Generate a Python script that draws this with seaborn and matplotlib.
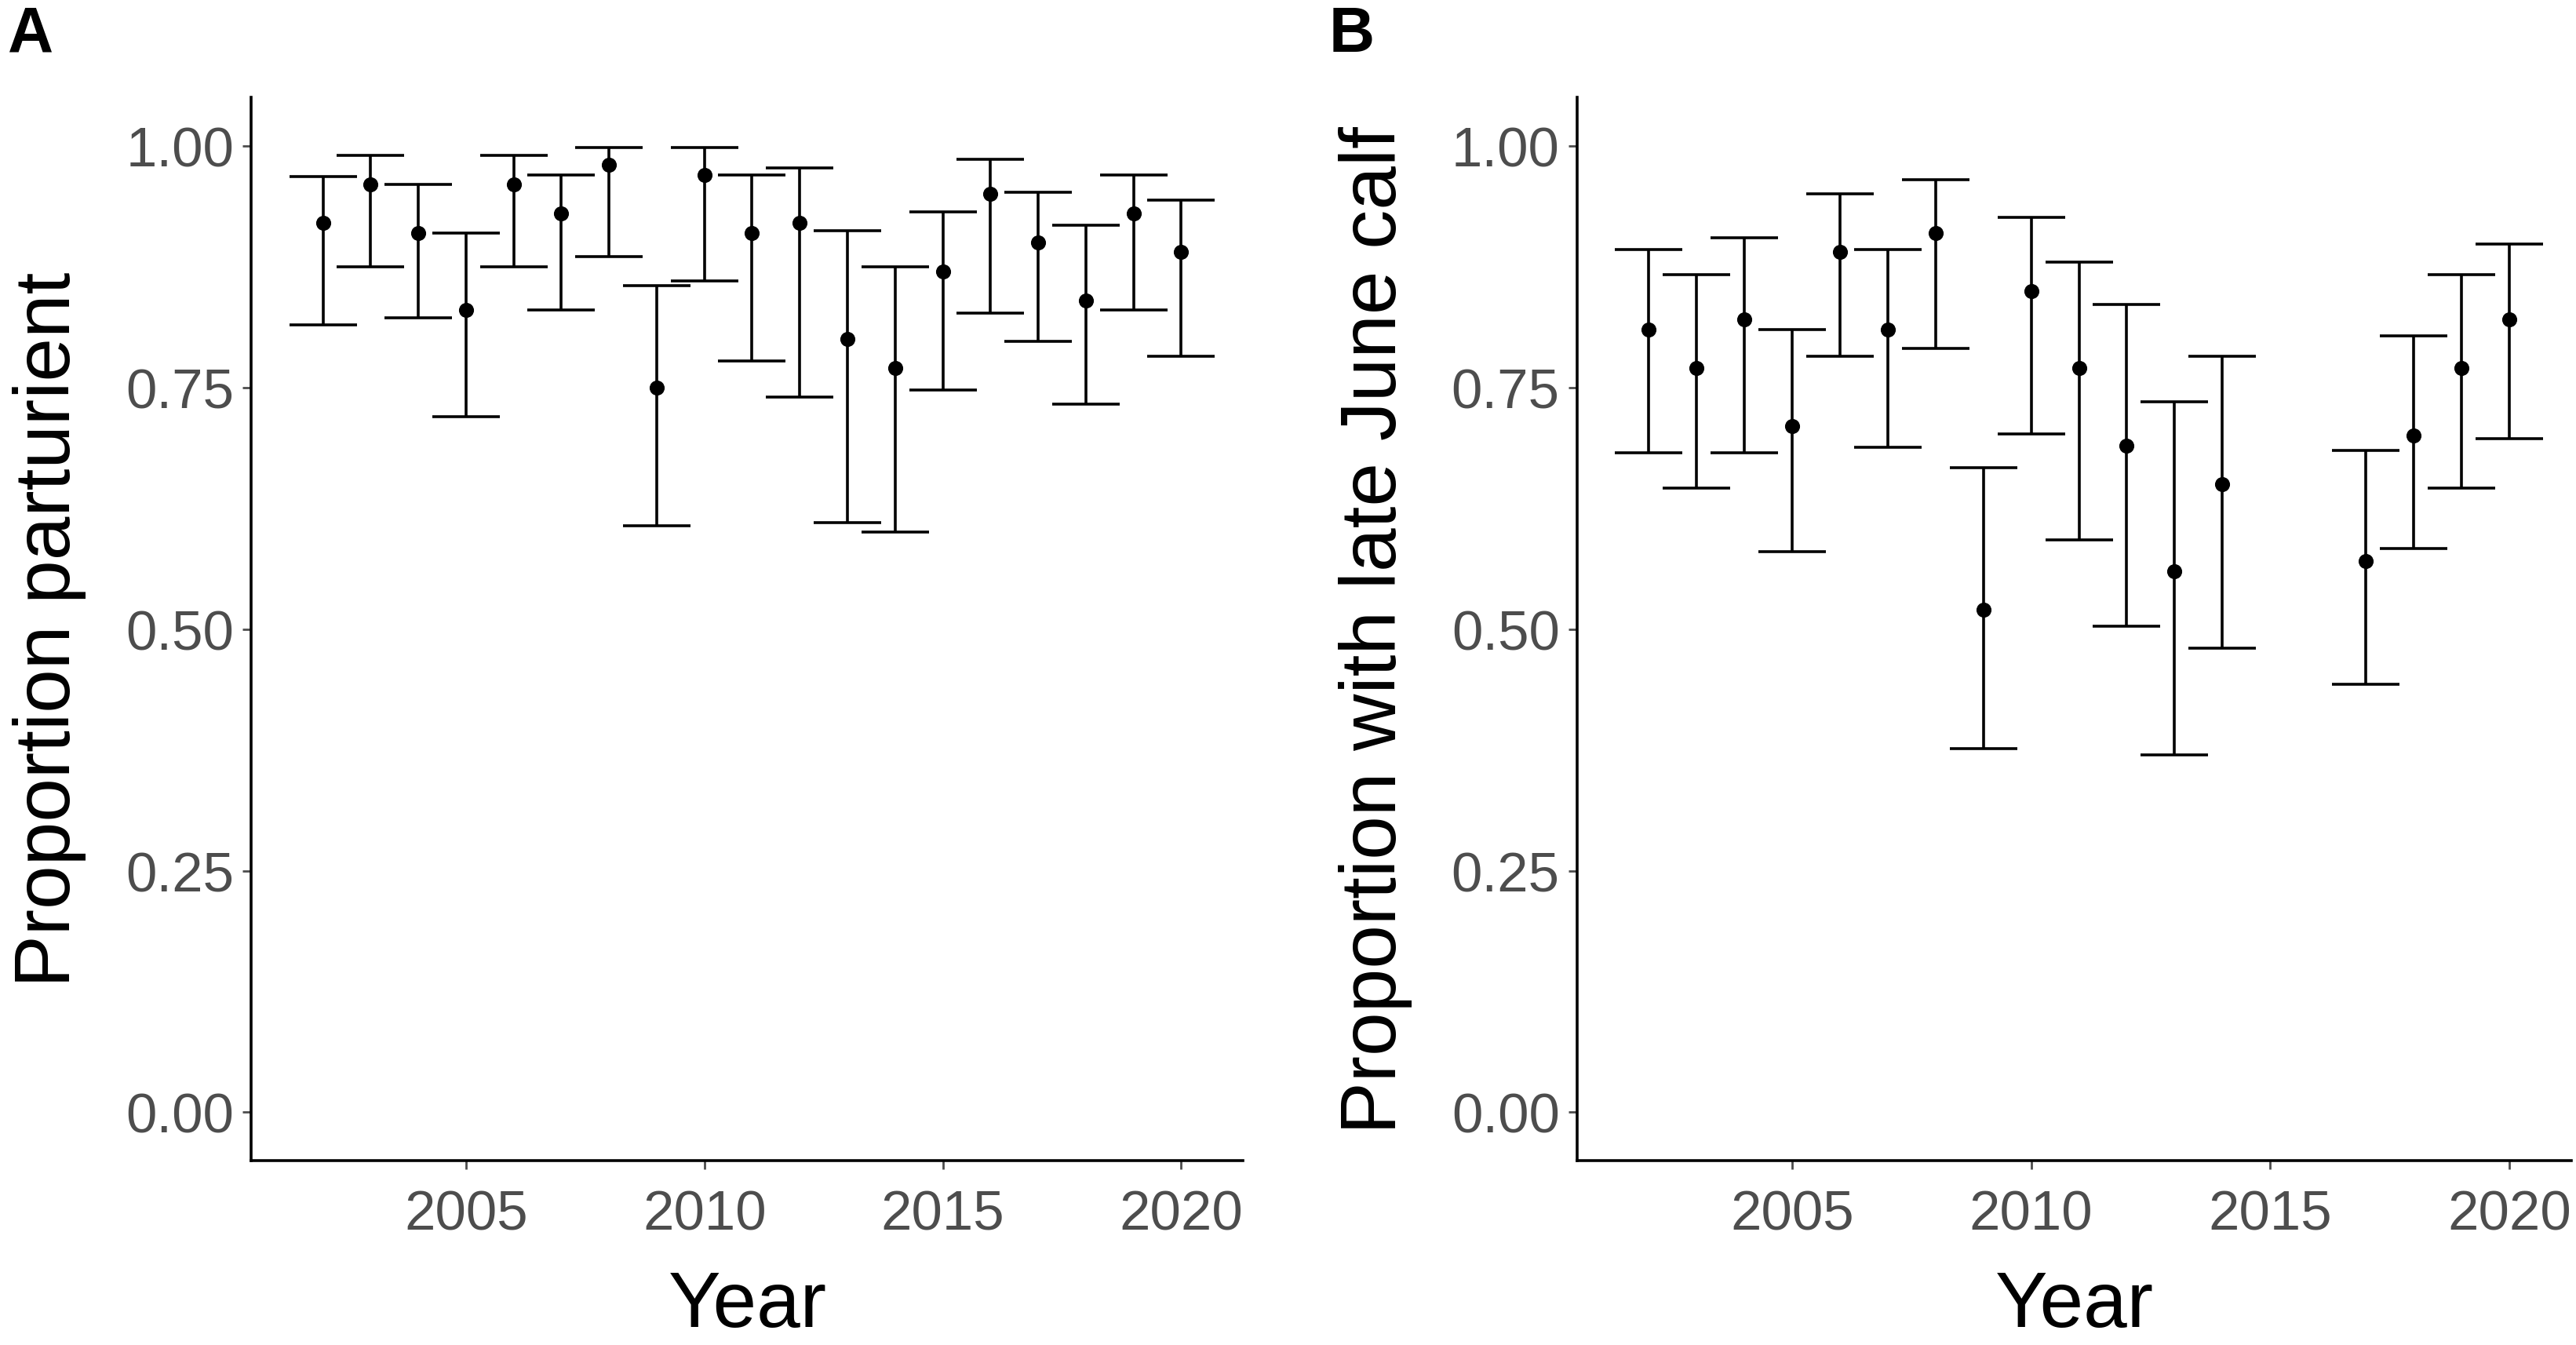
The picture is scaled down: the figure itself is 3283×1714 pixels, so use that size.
import numpy as np
import pandas as pd
import matplotlib
matplotlib.use("Agg")
import matplotlib.pyplot as plt
import seaborn as sns

# Panel A: proportion parturient
years_a = [2002, 2003, 2004, 2005, 2006, 2007, 2008, 2009, 2010, 2011,
           2012, 2013, 2014, 2015, 2016, 2017, 2018, 2019, 2020]
est_a = [0.92, 0.96, 0.91, 0.83, 0.96, 0.93, 0.98, 0.75, 0.97, 0.91,
         0.92, 0.80, 0.77, 0.87, 0.95, 0.90, 0.84, 0.93, 0.89]
low_a = [0.815, 0.875, 0.822, 0.72, 0.875, 0.83, 0.885, 0.607, 0.86, 0.777,
         0.74, 0.61, 0.60, 0.747, 0.827, 0.798, 0.733, 0.83, 0.782]
high_a = [0.968, 0.99, 0.96, 0.91, 0.99, 0.97, 0.998, 0.855, 0.998, 0.97,
          0.977, 0.912, 0.875, 0.932, 0.986, 0.952, 0.918, 0.97, 0.944]

# Panel B: proportion with late June calf
years_b = [2002, 2003, 2004, 2005, 2006, 2007, 2008, 2009, 2010, 2011,
           2012, 2013, 2014, 2017, 2018, 2019, 2020]
est_b = [0.81, 0.77, 0.82, 0.71, 0.89, 0.81, 0.91, 0.52, 0.85, 0.77,
         0.69, 0.56, 0.65, 0.57, 0.70, 0.77, 0.82]
low_b = [0.682, 0.646, 0.682, 0.58, 0.782, 0.688, 0.79, 0.376, 0.702, 0.592,
         0.503, 0.37, 0.48, 0.443, 0.583, 0.646, 0.697]
high_b = [0.893, 0.867, 0.905, 0.81, 0.95, 0.893, 0.965, 0.667, 0.926, 0.88,
          0.836, 0.735, 0.782, 0.685, 0.803, 0.867, 0.898]

x_ticks = [2005, 2010, 2015, 2020]
y_ticks = [0.00, 0.25, 0.50, 0.75, 1.00]

sns.set_theme(style="ticks")
plt.rcParams['font.family'] = ['Liberation Sans', 'DejaVu Sans']

fig = plt.figure(figsize=(32.83, 17.15), dpi=100)
ax_a = fig.add_axes([0.0976, 0.137, 0.385, 0.79])
ax_b = fig.add_axes([0.6122, 0.137, 0.386, 0.79])


def draw_panel(ax, years, est, low, high, ylabel):
    df = pd.DataFrame({"Year": years, "est": est, "low": low, "high": high})
    yerr = np.vstack([df["est"] - df["low"], df["high"] - df["est"]])
    ax.errorbar(df["Year"], df["est"], yerr=yerr, fmt="none", ecolor="black",
                elinewidth=2.6, capsize=31, capthick=2.6, zorder=2)
    sns.scatterplot(data=df, x="Year", y="est", ax=ax, color="black",
                    s=190, edgecolor="black", linewidth=0, zorder=3)
    ax.set_xlim(2000.5, 2021.3)
    ax.set_ylim(-0.05, 1.05)
    ax.set_xticks(x_ticks)
    ax.set_yticks(y_ticks)
    ax.set_yticklabels([f"{v:.2f}" for v in y_ticks])
    ax.set_xlabel("Year", fontsize=72, labelpad=26, color="black")
    ax.set_ylabel(ylabel, fontsize=72, labelpad=36, color="black")
    ax.tick_params(axis="both", labelsize=51, colors="#4d4d4d",
                   labelcolor="#4d4d4d", length=8, width=2)
    ax.tick_params(axis="x", pad=18)
    ax.tick_params(axis="y", pad=8)
    sns.despine(ax=ax)
    for side in ["left", "bottom"]:
        ax.spines[side].set_linewidth(2.6)
        ax.spines[side].set_color("black")


draw_panel(ax_a, years_a, est_a, low_a, high_a, "Proportion parturient")
draw_panel(ax_b, years_b, est_b, low_b, high_b, "Proportion with late June calf")

fig.text(0.003, 0.996, "A", fontsize=58, fontweight="bold", va="top", ha="left",
         color="black")
fig.text(0.516, 0.996, "B", fontsize=58, fontweight="bold", va="top", ha="left",
         color="black")

fig.savefig("out.png", dpi=100)
